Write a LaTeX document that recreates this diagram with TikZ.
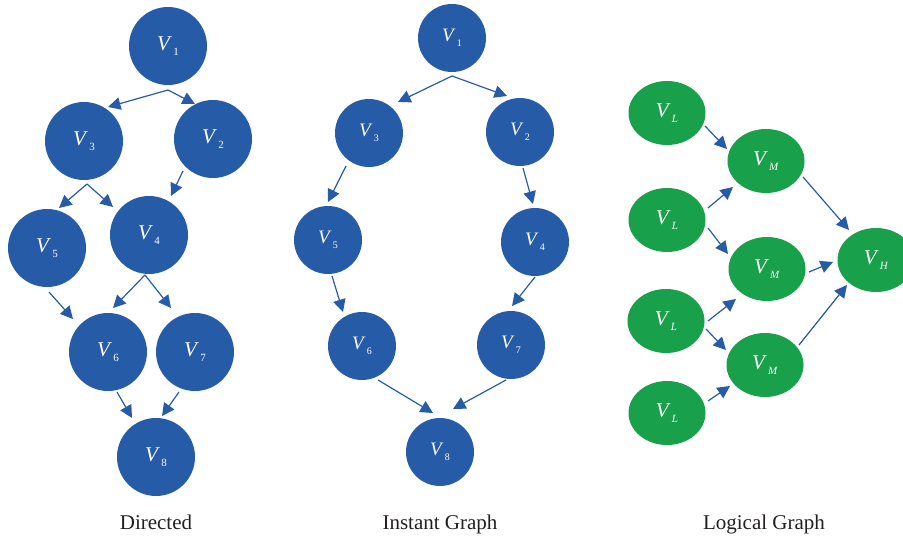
\documentclass[tikz,border=0pt]{standalone}
\usepackage{fontspec}
\setmainfont{Liberation Serif}
\usetikzlibrary{arrows.meta,shapes.geometric,calc}
\definecolor{nblue}{RGB}{38,91,168}
\definecolor{ngreen}{RGB}{24,160,75}
\definecolor{captxt}{RGB}{35,31,32}
% vertex label: italic V with a small lowered subscript
\newcommand\Vsub[2][11]{\textit{V}\kern1.2pt\raisebox{-5pt}{\fontsize{#1}{#1}\selectfont #2}}
\tikzset{
  dnode/.style={circle,fill=nblue,draw=none,minimum size=78pt,inner sep=0pt,text=white,font=\fontsize{21}{21}\selectfont},
  inode/.style={circle,fill=nblue,draw=none,minimum size=68pt,inner sep=0pt,text=white,font=\fontsize{19}{19}\selectfont},
  lnode/.style={ellipse,fill=ngreen,draw=none,minimum width=77pt,minimum height=64pt,inner sep=0pt,text=white,font=\fontsize{21}{21}\selectfont},
  arr/.style={draw=nblue,line width=1.2pt,-{Triangle[length=12.5pt 0,width=12.5pt 0]}},
  caption/.style={anchor=base,text=captxt,font=\fontsize{21}{21}\selectfont}
}
\begin{document}
\begin{tikzpicture}[x=1pt,y=-1pt]
\useasboundingbox (0,0) rectangle (903,537);
\clip (0,0) rectangle (903,537);

% ---- Directed ----
\node[dnode] (V1) at (168,46)  {\Vsub{1}};
\node[dnode] (V3) at (84,141)  {\Vsub{3}};
\node[dnode] (V2) at (213,139) {\Vsub{2}};
\node[dnode] (V5) at (47,248)  {\Vsub{5}};
\node[dnode] (V4) at (149,235) {\Vsub{4}};
\node[dnode] (V6) at (108,352) {\Vsub{6}};
\node[dnode] (V7) at (195,352) {\Vsub{7}};
\node[dnode] (V8) at (156,457) {\Vsub{8}};
\coordinate (f1) at ($(V1)+(0,44)$);
\coordinate (f3) at ($(V3)+(3,43)$);
\coordinate (f4) at ($(V4)+(-4,40)$);
\draw[arr] (f1) -- ($(V3)+(24,-34)$);
\draw[arr] (f1) -- ($(V2)+(-18,-35)$);
\draw[arr] (f3) -- ($(V5)+(12,-40)$);
\draw[arr] (f3) -- ($(V4)+(-36,-28)$);
\draw[arr] ($(V2)+(-30,32)$) -- ($(V4)+(22,-39)$);
\draw[arr] ($(V5)+(2,44)$) -- ($(V6)+(-35,-33)$);
\draw[arr] (f4) -- ($(V6)+(5,-44)$);
\draw[arr] (f4) -- ($(V7)+(-24,-44)$);
\draw[arr] ($(V6)+(9,40)$) -- ($(V8)+(-24,-39)$);
\draw[arr] ($(V7)+(-16,40)$) -- ($(V8)+(6,-41)$);
\node[caption] (capD) at (156,529) {Directed};

% ---- Instant Graph ----
\node[inode] (I1) at (452,38)  {\Vsub[10]{1}};
\node[inode] (I3) at (369,133) {\Vsub[10]{3}};
\node[inode] (I2) at (520,132) {\Vsub[10]{2}};
\node[inode] (I5) at (328,240) {\Vsub[10]{5}};
\node[inode] (I4) at (535,242) {\Vsub[10]{4}};
\node[inode] (I6) at (362,346) {\Vsub[10]{6}};
\node[inode] (I7) at (511,345) {\Vsub[10]{7}};
\node[inode] (I8) at (440,452) {\Vsub[10]{8}};
\coordinate (g1) at ($(I1)+(0,38)$);
\draw[arr] (g1) -- ($(I3)+(29,-31)$);
\draw[arr] (g1) -- ($(I2)+(-13,-36)$);
\draw[arr] ($(I3)+(-23,33)$) -- ($(I5)+(0,-38)$);
\draw[arr] ($(I2)+(3,36)$) -- ($(I4)+(-2,-38)$);
\draw[arr] ($(I5)+(4,36)$) -- ($(I6)+(-19,-34)$);
\draw[arr] ($(I4)+(0,35)$) -- ($(I7)+(1,-39)$);
\draw[arr] ($(I6)+(16,34)$) -- ($(I8)+(-7,-39)$);
\draw[arr] ($(I7)+(-5,35)$) -- ($(I8)+(13,-43)$);
\node[caption] (capI) at (440,529) {Instant Graph};

% ---- Logical Graph ----
\node[lnode] (L1) at (667,113) {\Vsub{\textit{L}}};
\node[lnode] (M1) at (766,161) {\Vsub{\textit{M}}};
\node[lnode] (L2) at (667,220) {\Vsub{\textit{L}}};
\node[lnode] (M2) at (767,269) {\Vsub{\textit{M}}};
\node[lnode] (H)  at (876,260) {\Vsub{\textit{H}}};
\node[lnode] (L3) at (666,321) {\Vsub{\textit{L}}};
\node[lnode] (M3) at (765,365) {\Vsub{\textit{M}}};
\node[lnode] (L4) at (667,413) {\Vsub{\textit{L}}};
\draw[arr] ($(L1)+(38,13)$) -- ($(M1)+(-39,-12)$);
\draw[arr] ($(L2)+(41,-12)$) -- ($(M1)+(-33,26)$);
\draw[arr] ($(L2)+(41,8)$) -- ($(M2)+(-39,-15)$);
\draw[arr] ($(M1)+(37,16)$) -- ($(H)+(-27,-30)$);
\draw[arr] ($(M2)+(42,3)$) -- ($(H)+(-43,2)$);
\draw[arr] ($(L3)+(42,0)$) -- ($(M2)+(-31,30)$);
\draw[arr] ($(L3)+(40,8)$) -- ($(M3)+(-39,-15)$);
\draw[arr] ($(L4)+(41,-12)$) -- ($(M3)+(-35,21)$);
\draw[arr] ($(M3)+(34,-20)$) -- ($(H)+(-29,25)$);
\node[caption] (capL) at (764,529) {Logical Graph};
\end{tikzpicture}
\end{document}
